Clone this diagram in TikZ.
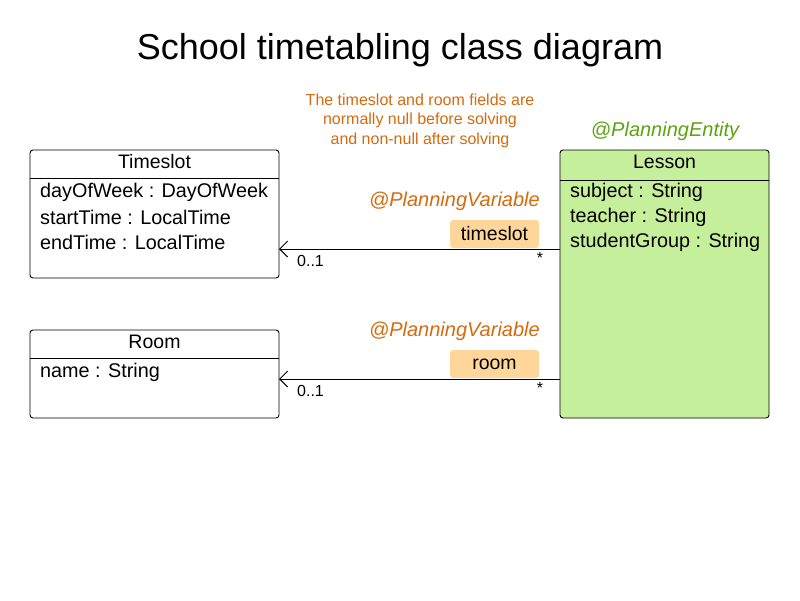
\documentclass[tikz,border=0pt]{standalone}
\usepackage{fontspec}
\setmainfont{Liberation Sans}
\usetikzlibrary{arrows.meta}
\definecolor{anno}{HTML}{D66A0E}
\definecolor{entc}{HTML}{5AA40E}
\definecolor{lessonfill}{HTML}{C6EF9C}
\definecolor{badge}{HTML}{FFD699}
\begin{document}
\begin{tikzpicture}[x=1pt,y=-1pt,
  classbox/.style={draw=black, line width=0.9pt, rounded corners=3pt},
  cname/.style={font=\fontsize{19.5}{20}\selectfont, anchor=center},
  field/.style={font=\fontsize{19.8}{20}\selectfont, anchor=west, inner xsep=0pt},
  anntext/.style={font=\fontsize{16}{19.5}\selectfont, text=anno, align=center},
  pvar/.style={font=\fontsize{20}{20}\selectfont\itshape, text=anno, anchor=east, inner xsep=0pt},
  badgebox/.style={fill=badge, rounded corners=3pt, minimum width=89pt, minimum height=28pt, inner sep=0pt, font=\fontsize{19.5}{20}\selectfont},
  assoc/.style={draw=black, line width=0.9pt, -{Straight Barb[length=8pt,width=16pt,line width=0.9pt]}},
  mult/.style={font=\fontsize{16}{16}\selectfont}
]
\useasboundingbox (0,0) rectangle (800,600);
\node[font=\fontsize{36}{36}\selectfont] (title) at (400,50) {School timetabling class diagram};
\node[anntext] (note) at (420,120.5) {The timeslot and room fields are\\normally null before solving\\and non-null after solving};

% Timeslot
\draw[classbox] (30,150) rectangle (279,278);
\coordinate (tsR) at (279,249);
\draw[line width=0.9pt] (30,178) -- (279,178);
\node[cname] (tsname) at (154.5,162) {Timeslot};
\node[field] (ts1) at (40,192.5) {dayOfWeek : DayOfWeek};
\node[field] (ts2) at (40,217.5) {startTime : LocalTime};
\node[field] (ts3) at (40,242.5) {endTime : LocalTime};

% Room
\draw[classbox] (30,330) rectangle (279,418);
\coordinate (rmR) at (279,379);
\draw[line width=0.9pt] (30,358) -- (279,358);
\node[cname] (rmname) at (154.5,342) {Room};
\node[field] (rm1) at (40,372.5) {name : String};

% Lesson
\node[font=\fontsize{20}{20}\selectfont\itshape, text=entc] (pe) at (665,131) {@PlanningEntity};
\draw[classbox, fill=lessonfill] (560,150) rectangle (769,418);
\draw[line width=0.9pt] (560,180) -- (769,180);
\node[cname] (lsname) at (664.5,162) {Lesson};
\node[field] (ls1) at (570,192.5) {subject : String};
\node[field] (ls2) at (570,217.5) {teacher : String};
\node[field] (ls3) at (570,242.5) {studentGroup : String};
\coordinate (lsA) at (560,249);
\coordinate (lsB) at (560,379);

% associations
\node[pvar] (pv1) at (540,201) {@PlanningVariable};
\node[badgebox] (b1) at (494.5,234) {timeslot};
\draw[assoc] (lsA) -- (tsR);
\node[mult, anchor=west, inner xsep=0pt] (m1a) at (297,261) {0..1};
\node[mult] (m1b) at (540,258) {*};

\node[pvar] (pv2) at (540,331) {@PlanningVariable};
\node[badgebox] (b2) at (494.5,364) {room};
\draw[assoc] (lsB) -- (rmR);
\node[mult, anchor=west, inner xsep=0pt] (m2a) at (297,391) {0..1};
\node[mult] (m2b) at (540,388) {*};
\end{tikzpicture}
\end{document}
